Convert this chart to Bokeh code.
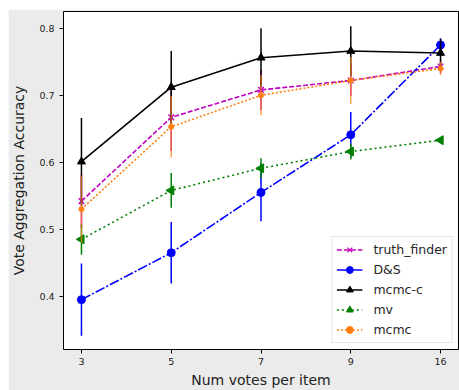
from bokeh.plotting import figure
from bokeh.models import Range1d, FixedTicker, Legend, LegendItem
from bokeh.embed import file_html
from bokeh.resources import INLINE

x_labels = ["3", "5", "7", "9", "16"]

truth_finder = [0.542, 0.667, 0.708, 0.722, 0.743]
truth_finder_err = [0.04, 0.05, 0.03, 0.023, 0.01]
ds = [0.395, 0.465, 0.555, 0.641, 0.775]
ds_err = [0.054, 0.046, 0.043, 0.034, 0.01]
mcmc_c = [0.601, 0.712, 0.756, 0.766, 0.763]
mcmc_c_err = [0.065, 0.054, 0.044, 0.037, 0.021]
mv = [0.485, 0.558, 0.591, 0.616, 0.633]
mv_err = [0.023, 0.026, 0.015, 0.012, 0.003]
mcmc = [0.530, 0.653, 0.700, 0.722, 0.740]
mcmc_err = [0.05, 0.046, 0.03, 0.035, 0.01]

xs = list(range(len(x_labels)))
FONT = "DejaVu Sans"

p = figure(width=451, height=381, output_backend="svg", toolbar_location=None,
           x_range=Range1d(-0.2, 4.2), y_range=Range1d(0.3206, 0.825),
           min_border_left=51, min_border_right=1, min_border_top=2, min_border_bottom=36)
p.margin = (9, 0, 0, 8)
p.background_fill_color = "white"
p.border_fill_color = "#ebebeb"
p.outline_line_color = "black"
p.outline_line_width = 1
p.xgrid.visible = False
p.ygrid.visible = False

p.xaxis.ticker = FixedTicker(ticks=xs)
p.xaxis.major_label_overrides = {i: s for i, s in enumerate(x_labels)}
p.yaxis.ticker = FixedTicker(ticks=[0.4, 0.5, 0.6, 0.7, 0.8])
for ax in (p.xaxis, p.yaxis):
    ax.axis_line_color = None
    ax.major_tick_out = 4
    ax.major_tick_in = 0
    ax.minor_tick_out = 0
    ax.minor_tick_in = 0
    ax.major_tick_line_color = "black"
    ax.major_label_text_font = FONT
    ax.major_label_text_font_size = "9.5px"
    ax.major_label_text_color = "#222222"
    ax.axis_label_text_font = FONT
    ax.axis_label_text_font_size = "14px"
    ax.axis_label_text_font_style = "normal"
    ax.axis_label_text_color = "#222222"
p.xaxis.axis_label = "Num votes per item"
p.yaxis.axis_label = "Vote Aggregation Accuracy"
p.xaxis.major_label_standoff = 4
p.yaxis.major_label_standoff = 5
p.xaxis.axis_label_standoff = 4
p.yaxis.axis_label_standoff = 9

series = [
    ("truth_finder", truth_finder, truth_finder_err, "#bf00bf", "5 2", "x", 8, 1.0),
    ("D&S", ds, ds_err, "#0000ff", "10 2 2 2", "circle", 8, 1.0),
    ("mcmc-c", mcmc_c, mcmc_c_err, "black", "solid", "triangle", 8, 1.0),
    ("mv", mv, mv_err, "#008000", "2 3", "triangle", 9, 1.0),
    ("mcmc", mcmc, mcmc_err, "#ff7f0e", "2 2", "circle", 5, 0.72),
]

items = []
for name, vals, errs, col, dash, marker, msize, ealpha in series:
    lo = [v - e for v, e in zip(vals, errs)]
    hi = [v + e for v, e in zip(vals, errs)]
    p.segment(x0=xs, y0=lo, x1=xs, y1=hi, line_color=col, line_width=1.5, line_alpha=ealpha)
    ln = p.line(xs, vals, line_color=col, line_width=1.6, line_dash=dash)
    if name == "mv":
        mk = p.scatter(xs, vals, marker=marker, size=msize, angle=90, angle_units="deg",
                       fill_color=col, line_color=col)
    elif marker == "x":
        mk = p.scatter(xs, vals, marker=marker, size=msize, line_color=col, line_width=1.3)
    else:
        mk = p.scatter(xs, vals, marker=marker, size=msize, fill_color=col, line_color=col)
    items.append(LegendItem(label=name, renderers=[ln, mk]))

legend = Legend(items=items, location="bottom_right")
legend.margin = 6
legend.padding = 4
legend.spacing = 3
legend.glyph_height = 17
legend.glyph_width = 26
legend.label_standoff = 11
legend.label_text_font = FONT
legend.label_text_font_size = "12.5px"
legend.label_text_color = "#262626"
legend.label_height = 17
legend.border_line_color = "#cccccc"
legend.background_fill_alpha = 0.8
p.add_layout(legend)

open("out.html", "w").write(file_html(p, INLINE))
